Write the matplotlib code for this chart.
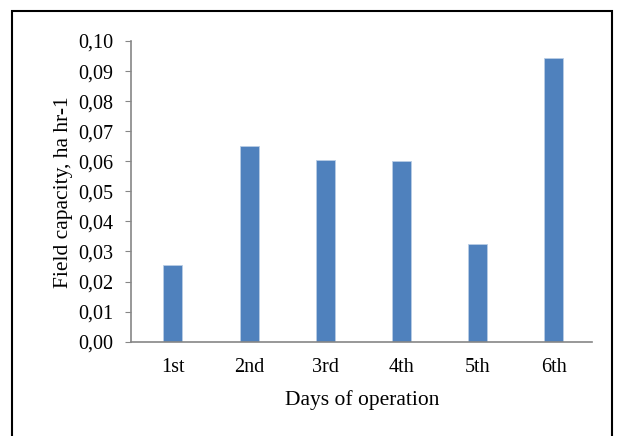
import matplotlib
matplotlib.use("Agg")
import matplotlib.pyplot as plt
from matplotlib.patches import Rectangle
from matplotlib.ticker import FuncFormatter

days = ["1st", "2nd", "3rd", "4th", "5th", "6th"]
capacity = [0.0256, 0.0652, 0.0605, 0.0600, 0.0325, 0.0943]
yticks = [0.00, 0.01, 0.02, 0.03, 0.04, 0.05, 0.06, 0.07, 0.08, 0.09, 0.10]

plt.rcParams['font.family'] = ['Liberation Serif', 'DejaVu Serif']

W, H = 621, 436
fig = plt.figure(figsize=(W / 100, H / 100), dpi=100)
fig.patch.set_facecolor('white')

# outer frame
fig.add_artist(Rectangle((12 / W, -0.05), (612 - 12) / W, 1.05 - 11 / H,
                         transform=fig.transFigure, fill=False,
                         edgecolor='black', linewidth=1.5))

ax = fig.add_axes([131 / W, 1 - 341.7 / H, (592 - 131) / W, (341.7 - 41) / H])
x = list(range(len(days)))
ax.bar(x, capacity, width=0.25, color='#4F81BD', edgecolor='#B9CDE5', linewidth=0.6)

ax.set_xlim(-0.55, len(days) - 0.5)
ax.set_ylim(0, 0.10)
ax.set_yticks(yticks)
ax.yaxis.set_major_formatter(FuncFormatter(lambda v, p: f"{v:.2f}".replace('.', ',')))
ax.set_xticks(x)
ax.set_xticklabels(days)

for s in ['top', 'right']:
    ax.spines[s].set_visible(False)
for s in ['left', 'bottom']:
    ax.spines[s].set_color('#868686')
    ax.spines[s].set_linewidth(1.2)

ax.tick_params(axis='y', length=4, color='#868686', labelsize=14.5, pad=8.5)
ax.tick_params(axis='x', length=0, labelsize=14.5, pad=12)

ax.set_xlabel("Days of operation", fontsize=15.5)
ax.set_ylabel("Field capacity, ha hr-1", fontsize=15.5)
ax.xaxis.set_label_coords(362 / W, 1 - 390 / H, transform=fig.transFigure)
ax.yaxis.set_label_coords(73 / W, 1 - 192.5 / H, transform=fig.transFigure)

fig.savefig("out.png", dpi=100)
